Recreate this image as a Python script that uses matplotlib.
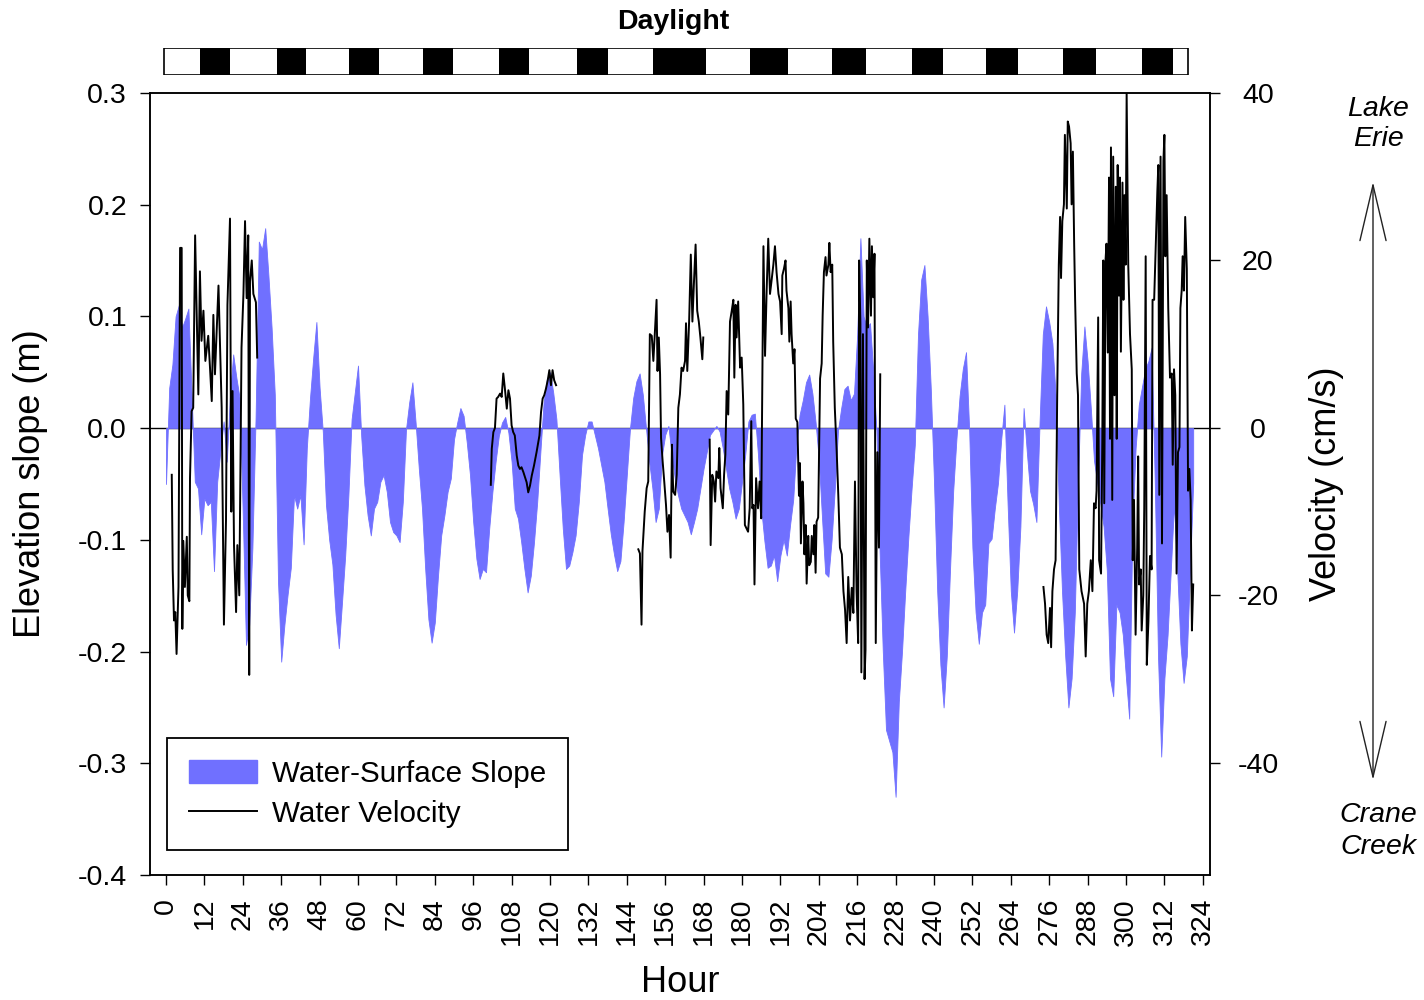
import numpy as np
import matplotlib
matplotlib.use('Agg')
import matplotlib.pyplot as plt
from matplotlib.patches import Patch, Rectangle, FancyArrowPatch
from matplotlib.lines import Line2D
from matplotlib.ticker import FormatStrFormatter


plt.rcParams['font.family'] = ['Liberation Sans', 'DejaVu Sans']
plt.rcParams['axes.unicode_minus'] = False

# Water-surface slope (m), one value per hour from hour 0
slope_m = [
    -0.050, 0.036, 0.057, 0.100, 0.110, 0.090, 0.098, 0.107, 0.030, -0.048, -0.054, -0.095,
    -0.063, -0.069, -0.066, -0.128, -0.048, -0.020, 0.006, -0.030, 0.030, 0.066, 0.045, 0.027,
    -0.078, -0.194, -0.176, -0.107, 0.010, 0.167, 0.160, 0.179, 0.137, 0.090, 0.030, -0.137,
    -0.209, -0.176, -0.149, -0.125, -0.060, -0.072, -0.060, -0.104, -0.018, 0.027, 0.063, 0.095,
    0.036, -0.003, -0.069, -0.100, -0.122, -0.167, -0.197, -0.156, -0.114, -0.060, 0.008, 0.032,
    0.056, -0.007, -0.051, -0.078, -0.096, -0.072, -0.066, -0.048, -0.042, -0.057, -0.084, -0.093,
    -0.096, -0.102, -0.066, -0.001, 0.023, 0.041, 0.005, -0.036, -0.072, -0.126, -0.171, -0.192,
    -0.174, -0.132, -0.096, -0.078, -0.057, -0.045, -0.010, 0.005, 0.018, 0.011, -0.013, -0.042,
    -0.084, -0.117, -0.135, -0.126, -0.129, -0.090, -0.057, -0.030, -0.007, 0.005, 0.010, -0.004,
    -0.030, -0.072, -0.081, -0.102, -0.126, -0.147, -0.132, -0.102, -0.066, -0.021, 0.023, 0.044,
    0.050, 0.032, 0.008, -0.042, -0.090, -0.126, -0.123, -0.111, -0.096, -0.066, -0.024, -0.006,
    0.006, 0.006, -0.006, -0.018, -0.033, -0.048, -0.072, -0.095, -0.113, -0.128, -0.119, -0.084,
    -0.042, 0.000, 0.027, 0.042, 0.049, 0.030, 0.000, -0.030, -0.054, -0.084, -0.072, -0.024,
    -0.006, 0.002, -0.024, -0.045, -0.060, -0.072, -0.078, -0.084, -0.095, -0.084, -0.072, -0.054,
    -0.036, -0.021, -0.006, -0.002, 0.002, -0.003, -0.018, -0.036, -0.054, -0.066, -0.081, -0.072,
    -0.048, -0.024, 0.006, 0.012, 0.013, -0.024, -0.072, -0.101, -0.125, -0.123, -0.114, -0.137,
    -0.114, -0.100, -0.114, -0.087, -0.064, -0.015, 0.012, 0.025, 0.041, 0.048, 0.031, 0.005,
    -0.028, -0.080, -0.130, -0.133, -0.100, -0.054, -0.002, 0.018, 0.035, 0.038, 0.025, 0.031,
    0.084, 0.170, 0.100, 0.090, 0.094, 0.051, -0.002, -0.110, -0.200, -0.270, -0.280, -0.290,
    -0.330, -0.245, -0.200, -0.146, -0.097, -0.054, -0.015, 0.084, 0.133, 0.146, 0.100, 0.035,
    -0.048, -0.146, -0.212, -0.250, -0.204, -0.127, -0.056, -0.010, 0.029, 0.053, 0.068, -0.002,
    -0.107, -0.165, -0.193, -0.165, -0.158, -0.103, -0.099, -0.072, -0.049, -0.010, 0.021, -0.068,
    -0.146, -0.183, -0.146, -0.088, 0.018, -0.021, -0.056, -0.068, -0.084, 0.006, 0.084, 0.109,
    0.095, 0.076, 0.029, -0.068, -0.146, -0.204, -0.250, -0.224, -0.165, -0.049, 0.049, 0.091,
    0.060, 0.018, -0.029, -0.049, -0.068, -0.088, -0.127, -0.224, -0.240, -0.158, -0.165, -0.185,
    -0.224, -0.260, -0.088, -0.018, 0.021, 0.037, 0.053, 0.060, 0.072, -0.049, -0.204, -0.294,
    -0.224, -0.185, -0.127, -0.068, -0.127, -0.193, -0.228, -0.204, -0.127, -0.049,
]

# Water velocity (cm/s) as (hour, value), one list per recorded stretch
vel_seg1 = [
    (1.8, -5.6), (2.1, -17), (2.5, -23), (2.9, -22), (3.3, -27), (3.9, -19), (4.4, 21.5),
    (4.9, 21.5), (5.1, -24), (5.4, -13.5), (5.9, -19), (6.5, -13), (6.8, -20), (7.3, -20.7),
    (7.5, -6), (8.0, 2), (8.5, 2.4), (9.1, 23), (9.6, 13.5), (10.1, 4), (10.6, 18.7),
    (11.1, 10.4), (11.7, 14), (12.3, 8), (13.2, 11), (13.75, 7.2), (14.3, 3.2), (14.8, 13.5),
    (15.3, 6.4), (16.4, 17), (16.9, 9.6), (17.4, 2.4), (18.1, -23.5), (18.75, -11), (19.2, 14.7),
    (20.0, 25), (20.4, -10), (20.8, 4.4), (21.25, -14), (21.9, -22), (22.3, -14), (22.9, -20),
    (23.6, 9.6), (24.2, 16), (24.7, 24.7), (25.2, 15.5), (25.7, 23), (26.0, -29.5), (26.25, 17.5),
    (26.8, 20), (27.3, 16), (28.1, 15), (28.5, 8.4),
]
vel_seg2 = [
    (101.5, -6.8), (101.8, -2.5), (102.3, -0.5), (102.8, 0), (103.3, 3.5), (103.8, 3.7),
    (104.4, 4.1), (104.9, 3.7), (105.4, 6.5), (105.9, 4.7), (106.5, 2.3), (107.0, 4.5),
    (107.5, 3.5), (108.0, 0.3), (108.5, -0.5), (109.0, -0.9), (109.6, -3.3), (110.1, -4.5),
    (110.6, -4.9), (111.1, -4.7), (111.7, -5.3), (112.2, -5.9), (112.7, -6.5), (113.2, -7.7),
    (113.75, -6.9), (114.3, -5.7), (115.0, -4.5), (115.8, -2.9), (116.7, -0.9), (117.2, 1.9),
    (117.7, 3.5), (118.2, 3.9), (118.75, 4.7), (119.3, 5.7), (119.8, 6.9), (120.3, 5.1),
    (120.8, 6.9), (121.3, 5.7), (121.9, 5.1),
]
vel_seg3 = [
    (147.6, -14.5), (148.1, -15), (148.6, -23.5), (148.9, -14.7), (149.6, -10), (150.2, -7.2),
    (150.7, -6.4), (151.2, 11.2), (151.8, 11), (152.3, 8), (152.8, 11.6), (153.3, 15.3),
    (153.6, 6.8), (154.0, 10.8), (154.4, 6.4), (154.7, -1.2), (155.2, -4), (155.7, -6.4),
    (156.25, -9.2), (156.7, -12.4), (157.2, -10.4), (157.7, -15.5), (158.1, -2), (158.5, -7.6),
    (159.1, -8), (159.6, -5.6), (160.1, 2.4), (160.6, 4), (161.1, 7.2), (161.6, 6.8),
    (162.2, 8), (162.5, 12.5), (162.9, 6.8), (163.5, 13), (164.0, 20.7), (164.5, 12.7),
    (165.0, 17.5), (165.5, 21.9), (166.0, 14), (166.5, 12.7), (167.0, 10.8), (167.6, 8.2),
    (167.9, 10.8),
]
vel_seg4 = [
    (169.9, -1.4), (170.2, -14), (170.7, -5.6), (171.2, -6.4), (171.6, -8.8), (172.0, -5.2),
    (172.6, -6), (172.9, -2.4), (173.3, -7.2), (174.0, -9.6), (174.4, -5.6), (174.8, -3.2),
    (175.2, 4.4), (175.7, 1.6), (176.25, 12.7), (176.8, 14), (177.3, 15.3), (177.6, 6),
    (178.0, 14.7), (178.3, 10.8), (178.8, 15.1), (179.4, 7.2), (179.9, 8.4), (180.4, 2.8),
    (180.9, -11.6), (181.4, -12), (181.9, -12.4), (182.4, -9.6), (182.9, 0.8), (183.2, -9.6),
    (183.6, -9.2), (183.9, -18.7), (184.4, -6), (185.0, -9.6), (185.5, -6.4), (186.0, -10.8),
    (186.7, 21.7), (187.2, 8.6), (187.7, 16.4), (188.2, 22.6), (188.75, 16), (189.3, 17.8),
    (189.8, 19.5), (190.3, 21.7), (190.8, 18.6), (191.4, 16), (191.9, 15.1), (192.4, 11.2),
    (192.6, 18.2), (193.1, 19), (193.6, 20), (193.9, 16.4), (194.5, 14.3), (194.8, 10.3),
    (195.2, 15.1), (195.5, 11.2), (196.0, 7.7), (196.4, 9.4), (196.8, 1.1), (197.3, 0.7),
    (197.8, -8.1), (198.1, -4.2), (198.4, -13.8), (198.9, -6.4), (199.2, -9), (199.5, -15.1),
    (199.9, -11.6), (200.2, -18.6), (200.7, -12.9), (201.0, -16.4), (201.5, -16), (201.8, -12.9),
    (202.3, -15.1), (202.6, -11.6), (203.0, -17.3), (203.3, -11.2), (203.8, -10.7), (204.4, 5.9),
    (204.9, 7.7), (205.2, 13.4), (205.6, 18.6), (206.1, 20.4), (206.4, 18.2), (207.0, 19.5),
    (207.3, 22.1), (207.7, 18.6), (208.2, 19.5), (208.5, 10.3), (209.0, 2.4), (209.6, -2.9),
    (210.1, -8.1), (210.6, -14.3), (211.2, -15.1), (211.7, -19.5), (212.2, -21.7), (212.7, -25.7),
    (213.2, -17.8), (213.75, -23), (214.3, -19.1), (214.8, -22.1), (215.3, -6.4), (215.8, -19.5),
    (216.3, -25.7), (216.6, 20), (217.0, 12.5), (217.3, -29.2), (217.8, 11.2), (218.3, -30),
    (218.6, -26.5), (219.0, 20), (219.4, 12), (219.8, 22.6), (220.3, 13.4), (220.6, 21.7),
    (221.0, 15.6), (221.4, 20.8), (221.8, -25.7), (222.3, -2.9), (222.8, -14.3), (223.2, 6.4),
]
vel_seg5 = [
    (274.2, -19), (274.7, -21), (275.2, -24.7), (275.7, -25.7), (276.25, -21.5), (276.6, -26.2),
    (277.0, -19.5), (277.5, -16.9), (278.0, -15.8), (278.5, 3.9), (279.0, 19.5), (279.4, 25.2),
    (279.7, 17.9), (280.1, 24.7), (280.6, 26.7), (280.9, 35), (281.5, 26.2), (281.8, 36.6),
    (282.2, 36), (282.7, 34), (283.0, 26.7), (283.4, 33), (283.8, 22), (284.1, 15.3),
    (284.6, 6.5), (285.0, 3.9), (285.4, -16.9), (286.1, -19.5), (286.9, -21), (287.4, -27.3),
    (287.9, -21), (288.4, -19.5), (289.0, -15.8), (289.5, -19.5), (290.0, -9), (290.5, -9.6),
    (290.8, -7.5), (291.3, 13.2), (291.6, -15.8), (292.2, -17.4), (292.6, -1.3), (292.9, 20),
    (293.2, -9), (293.6, 20), (293.9, 22), (294.3, 9), (294.7, 29.9), (295.0, -1.3),
    (295.3, 33.5), (295.7, -8.6), (296.0, 32.4), (296.4, 3.9), (296.8, 28.8), (297.1, -1.3),
    (297.4, 31.4), (297.8, 15.8), (298.1, 29.9), (298.4, 9.1), (298.9, 29.3), (299.2, 15.3),
    (299.5, 27.8), (299.9, 19.5), (300.2, 40), (300.7, 19.5), (301.25, 11.2), (301.8, 7),
    (302.1, -15.8), (302.5, -8.6), (303.0, -24.7), (303.5, -14.3), (303.8, -3.4), (304.1, -18.7),
    (304.6, -16.9), (304.9, -24.2), (305.4, -20), (305.7, -9.6), (306.15, 20.5), (306.5, -28.3),
    (307.0, -23.1), (307.5, -15.3), (308.0, -16.9), (308.3, 15.3), (308.8, 15.3), (309.2, 20.5),
    (309.8, 28.3), (310.1, 31.4), (310.4, -8), (310.8, 32.4), (311.25, -13.8), (311.7, 31.9),
    (312.0, 35), (312.3, 20.5), (312.7, 27.8), (313.2, 14.3), (313.75, 6), (314.3, 6.5),
    (314.6, -4.4), (315.0, 7), (315.4, 3.9), (315.8, -17.4), (316.25, -2.9), (316.7, -2.3),
    (317.0, 14.3), (317.4, 16.4), (317.7, 20.5), (318.1, 16.4), (318.5, 25.2), (319.0, 19),
    (319.4, -7.5), (319.8, -4.9), (320.2, -8.6), (320.6, -24.2), (321.0, -18.7),
]

# Night periods (hours) for the daylight bar
night_start = [10.6, 34.7, 57.2, 80.3, 104.0, 128.4, 152.2, 182.5, 208.1, 233.1, 256.25, 280.3, 305.0]
night_end = [20.0, 43.75, 66.6, 89.7, 113.4, 138.1, 168.75, 194.4, 218.75, 242.8, 266.25, 290.6, 314.7]
bar_start, bar_end = -0.6, 319.5

hour_ticks = np.arange(0, 325, 12)
slope_ticks = [-0.4, -0.3, -0.2, -0.1, 0.0, 0.1, 0.2, 0.3]
vel_ticks = [-40, -20, 0, 20, 40]

BLUE = '#7070ff'
FS = 20.5
W, H = 1424, 1000

fig = plt.figure(figsize=(W / 100, H / 100), dpi=100)
ax = fig.add_axes([150 / W, 1 - 875 / H, 1060 / W, 782 / H])

hours = np.arange(len(slope_m))
ax.axhline(0, color='k', lw=1, zorder=1)
ax.fill_between(hours, 0, slope_m, color=BLUE, lw=0.6, edgecolor=BLUE, zorder=2)
ax.set_xlim(-5, 326.25)
ax.set_ylim(-0.4, 0.3)
ax.set_xticks(hour_ticks)
ax.set_yticks(slope_ticks)
ax.yaxis.set_major_formatter(FormatStrFormatter('%.1f'))
ax.tick_params(axis='both', direction='out', length=7.5, width=1, labelsize=FS)
ax.tick_params(axis='y', pad=9)
ax.tick_params(axis='x', labelrotation=90, pad=9)
for s in ax.spines.values():
    s.set_linewidth(1.1)

ax.set_xlabel('Hour', fontsize=26)
ax.xaxis.set_label_coords(0.5, -0.115)
ax.set_ylabel('Elevation slope (m)', fontsize=26)
ax.yaxis.set_label_coords(-0.096, 0.5)

# velocity on right axis
ax2 = ax.twinx()
for seg in [vel_seg1, vel_seg2, vel_seg3, vel_seg4, vel_seg5]:
    h, v = zip(*seg)
    ax2.plot(h, v, color='k', lw=1.4)
ax2.set_ylim(-53.4, 40)
ax2.set_yticks(vel_ticks)
ax2.tick_params(axis='y', direction='out', length=7.5, width=1, labelsize=FS, pad=27)
for lab in ax2.get_yticklabels():
    lab.set_horizontalalignment('center')
ax2.set_ylabel('Velocity (cm/s)', fontsize=26)
ax2.yaxis.set_label_coords(1.093, 0.5)
for s in ax2.spines.values():
    s.set_linewidth(1.1)

handles = [Patch(facecolor=BLUE, edgecolor=BLUE), Line2D([], [], color='k', lw=1.4)]
leg = ax2.legend(handles, ['Water-Surface Slope', 'Water Velocity'], loc='lower left',
                 bbox_to_anchor=(0.016, 0.032), borderaxespad=0, fontsize=21.3,
                 frameon=True, fancybox=False, framealpha=1, edgecolor='k',
                 handlelength=2.3, handleheight=0.8, handletextpad=0.5,
                 borderpad=0.75, labelspacing=0.4)
leg.get_frame().set_linewidth(1.3)

# daylight bar
bar = fig.add_axes([150 / W, 1 - 75 / H, 1060 / W, 27 / H])
bar.set_xlim(ax.get_xlim())
bar.set_ylim(0, 1)
bar.add_patch(Rectangle((bar_start, 0), bar_end - bar_start, 1, facecolor='white',
                        edgecolor='k', lw=1.2))
bar.broken_barh([(s, e - s) for s, e in zip(night_start, night_end)], (0, 1), facecolors='k')
bar.axis('off')
fig.text(673 / W, 1 - 22 / H, 'Daylight', ha='center', va='center', fontsize=FS, fontweight='bold')

# flow direction
fig.text(1378 / W, 1 - 124 / H, 'Lake\nErie', ha='center', va='center', fontsize=FS,
         style='italic', linespacing=1.25)
fig.text(1378 / W, 1 - 831 / H, 'Crane\nCreek', ha='center', va='center', fontsize=FS,
         style='italic', linespacing=1.25)
arrow = FancyArrowPatch((1373 / W, 1 - 182 / H), (1373 / W, 1 - 780 / H),
                        transform=fig.transFigure, arrowstyle='<->,head_length=40,head_width=9.4',
                        mutation_scale=1, lw=1.0, color='#222222', shrinkA=0, shrinkB=0)
fig.add_artist(arrow)

fig.savefig('out.png', dpi=100)
